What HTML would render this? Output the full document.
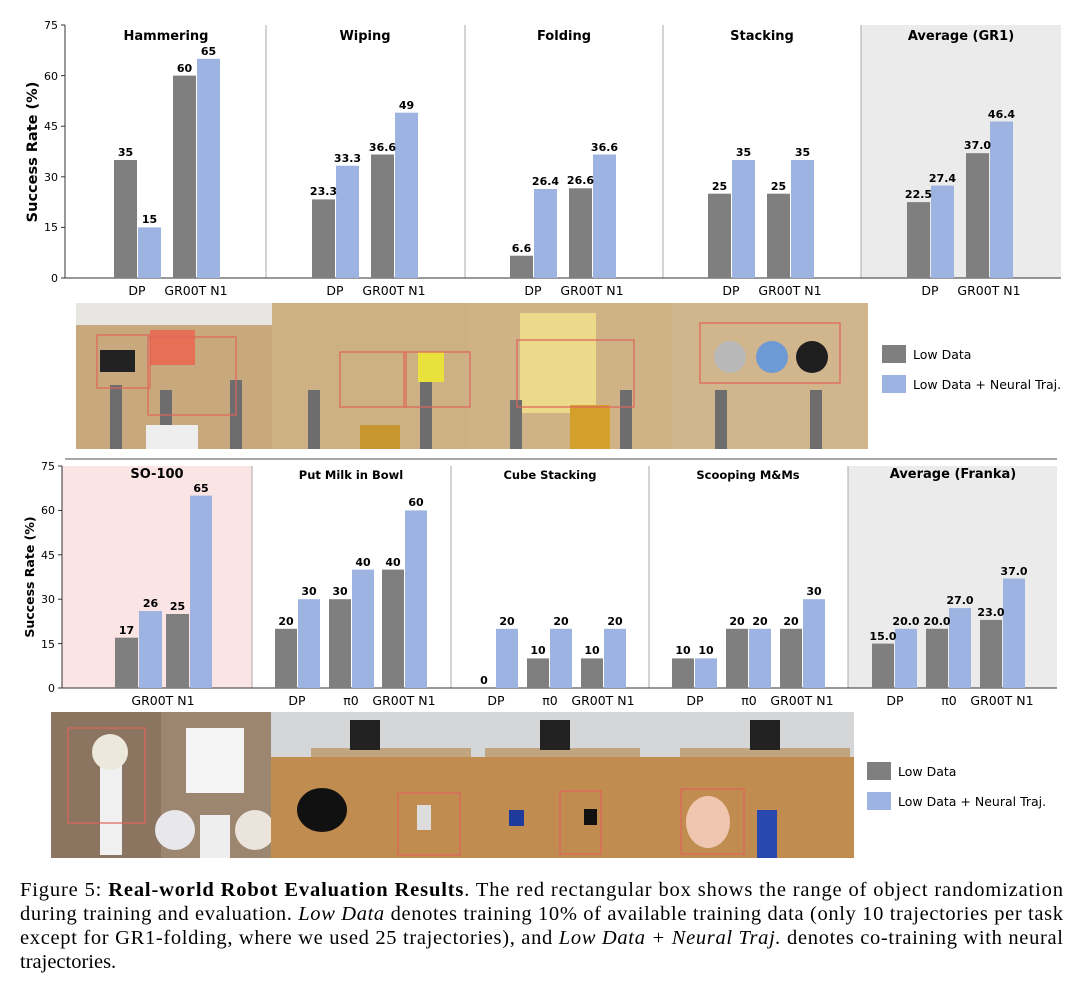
<!DOCTYPE html>
<html><head><meta charset="utf-8"><style>
html,body{margin:0;padding:0;background:#fff;width:1080px;height:991px;overflow:hidden}
svg text{font-family:"DejaVu Sans","Liberation Sans",sans-serif}
.v{font-size:11px;font-weight:bold;text-anchor:middle}
.t{font-size:13px;font-weight:bold;text-anchor:middle}
.x{font-size:12.5px;text-anchor:middle}
.y{font-size:11px;text-anchor:end}
.cap{font-family:"Liberation Serif",serif;font-size:20.5px}
</style></head><body>
<svg width="1080" height="991" viewBox="0 0 1080 991" xmlns="http://www.w3.org/2000/svg">
<rect x="861" y="25" width="200" height="253" fill="#ebebeb"/>
<g stroke="#aaa" stroke-width="1">
<line x1="266" y1="25" x2="266" y2="278"/><line x1="465" y1="25" x2="465" y2="278"/><line x1="663" y1="25" x2="663" y2="278"/><line x1="861" y1="25" x2="861" y2="278"/>
</g>
<line x1="65" y1="25" x2="65" y2="278" stroke="#333"/>
<line x1="65" y1="278" x2="1061" y2="278" stroke="#333"/>
<g stroke="#333"><line x1="61" y1="278" x2="65" y2="278"/><line x1="61" y1="227.4" x2="65" y2="227.4"/><line x1="61" y1="176.8" x2="65" y2="176.8"/><line x1="61" y1="126.2" x2="65" y2="126.2"/><line x1="61" y1="75.6" x2="65" y2="75.6"/><line x1="61" y1="25" x2="65" y2="25"/></g>
<text x="58" y="282" class="y">0</text><text x="58" y="231" class="y">15</text><text x="58" y="181" class="y">30</text><text x="58" y="130" class="y">45</text><text x="58" y="80" class="y">60</text><text x="58" y="29" class="y">75</text>
<text transform="translate(37,152) rotate(-90)" font-size="14.5" font-weight="bold" text-anchor="middle">Success Rate (%)</text>
<text x="166" y="40" class="t">Hammering</text><text x="365" y="40" class="t">Wiping</text><text x="564" y="40" class="t">Folding</text><text x="762" y="40" class="t">Stacking</text><text x="961" y="40" class="t">Average (GR1)</text>
<g fill="#7f7f7f">
<rect x="114" y="160" width="23" height="118"/><rect x="173" y="75.6" width="23" height="202.4"/>
<rect x="312" y="199.4" width="23" height="78.6"/><rect x="371" y="154.5" width="23" height="123.5"/>
<rect x="510" y="255.7" width="23" height="22.3"/><rect x="569" y="188.3" width="23" height="89.7"/>
<rect x="708" y="193.7" width="23" height="84.3"/><rect x="767" y="193.7" width="23" height="84.3"/>
<rect x="907" y="202.1" width="23" height="75.9"/><rect x="966" y="153.2" width="23" height="124.8"/>
</g>
<g fill="#9db3e2">
<rect x="138" y="227.4" width="23" height="50.6"/><rect x="197" y="58.8" width="23" height="219.2"/>
<rect x="336" y="165.7" width="23" height="112.3"/><rect x="395" y="112.7" width="23" height="165.3"/>
<rect x="534" y="189" width="23" height="89"/><rect x="593" y="154.5" width="23" height="123.5"/>
<rect x="732" y="160" width="23" height="118"/><rect x="791" y="160" width="23" height="118"/>
<rect x="931" y="185.6" width="23" height="92.4"/><rect x="990" y="121.5" width="23" height="156.5"/>
</g>
<g>
<text x="125.5" y="156" class="v">35</text><text x="149.5" y="223" class="v">15</text><text x="184.5" y="72" class="v">60</text><text x="208.5" y="55" class="v">65</text>
<text x="323.5" y="195" class="v">23.3</text><text x="347.5" y="162" class="v">33.3</text><text x="382.5" y="151" class="v">36.6</text><text x="406.5" y="109" class="v">49</text>
<text x="521.5" y="252" class="v">6.6</text><text x="545.5" y="185" class="v">26.4</text><text x="580.5" y="184" class="v">26.6</text><text x="604.5" y="151" class="v">36.6</text>
<text x="719.5" y="190" class="v">25</text><text x="743.5" y="156" class="v">35</text><text x="778.5" y="190" class="v">25</text><text x="802.5" y="156" class="v">35</text>
<text x="918.5" y="198" class="v">22.5</text><text x="942.5" y="182" class="v">27.4</text><text x="977.5" y="149" class="v">37.0</text><text x="1001.5" y="118" class="v">46.4</text>
</g>
<text x="137" y="295" class="x">DP</text><text x="196" y="295" class="x">GR00T N1</text>
<text x="335" y="295" class="x">DP</text><text x="394" y="295" class="x">GR00T N1</text>
<text x="533" y="295" class="x">DP</text><text x="592" y="295" class="x">GR00T N1</text>
<text x="731" y="295" class="x">DP</text><text x="790" y="295" class="x">GR00T N1</text>
<text x="930" y="295" class="x">DP</text><text x="989" y="295" class="x">GR00T N1</text>
<rect x="76" y="303" width="198" height="146" fill="#c8a97e"/><rect x="76" y="303" width="198" height="22" fill="#e8e6e2"/>
<rect x="272" y="303" width="198" height="146" fill="#cdb083"/>
<rect x="468" y="303" width="204" height="146" fill="#cfb286"/><rect x="520" y="313" width="76" height="100" fill="#ecd98a"/>
<rect x="672" y="303" width="196" height="146" fill="#d0b58d"/>
<g fill="#6d6d6d"><rect x="110" y="385" width="12" height="64"/><rect x="160" y="390" width="12" height="59"/><rect x="230" y="380" width="12" height="69"/><rect x="308" y="390" width="12" height="59"/><rect x="420" y="380" width="12" height="69"/><rect x="510" y="400" width="12" height="49"/><rect x="620" y="390" width="12" height="59"/><rect x="715" y="390" width="12" height="59"/><rect x="810" y="390" width="12" height="59"/></g>
<rect x="100" y="350" width="35" height="22" fill="#222"/><rect x="150" y="330" width="45" height="35" fill="#e57055"/><rect x="418" y="352" width="26" height="30" fill="#e9e13c"/>
<rect x="146" y="425" width="52" height="24" fill="#eee"/><rect x="360" y="425" width="40" height="24" fill="#c8962e"/><rect x="570" y="405" width="40" height="44" fill="#d4a02c"/>
<circle cx="730" cy="357" r="16" fill="#b8b8b8"/><circle cx="772" cy="357" r="16" fill="#6d9ad4"/><circle cx="812" cy="357" r="16" fill="#1e1e1e"/>
<g fill="none" stroke="#e0645a" stroke-width="1.2"><rect x="97" y="335" width="53" height="53"/><rect x="148" y="337" width="88" height="78"/><rect x="340" y="352" width="66" height="55"/><rect x="404" y="352" width="66" height="55"/><rect x="517" y="340" width="117" height="67"/><rect x="700" y="323" width="140" height="60"/></g>
<rect x="882" y="345" width="24" height="18" fill="#7f7f7f"/><text x="913" y="359" font-size="12.5">Low Data</text>
<rect x="882" y="375" width="24" height="18" fill="#9db3e2"/><text x="913" y="389" font-size="12.5">Low Data + Neural Traj.</text>
<line x1="65" y1="459" x2="1057" y2="459" stroke="#888" stroke-width="1.5"/>
<rect x="62" y="466" width="190" height="222" fill="#fbe4e4"/>
<rect x="848" y="466" width="209" height="222" fill="#ebebeb"/>
<g stroke="#aaa"><line x1="252" y1="466" x2="252" y2="688"/><line x1="451" y1="466" x2="451" y2="688"/><line x1="649" y1="466" x2="649" y2="688"/><line x1="848" y1="466" x2="848" y2="688"/></g>
<line x1="62" y1="466" x2="62" y2="688" stroke="#333"/><line x1="62" y1="688" x2="1057" y2="688" stroke="#333"/>
<g stroke="#333"><line x1="58" y1="688" x2="62" y2="688"/><line x1="58" y1="643.6" x2="62" y2="643.6"/><line x1="58" y1="599.2" x2="62" y2="599.2"/><line x1="58" y1="554.8" x2="62" y2="554.8"/><line x1="58" y1="510.4" x2="62" y2="510.4"/><line x1="58" y1="466" x2="62" y2="466"/></g>
<text x="55" y="692" class="y">0</text><text x="55" y="648" class="y">15</text><text x="55" y="603" class="y">30</text><text x="55" y="559" class="y">45</text><text x="55" y="514" class="y">60</text><text x="55" y="470" class="y">75</text>
<text transform="translate(34,577) rotate(-90)" font-size="12.5" font-weight="bold" text-anchor="middle">Success Rate (%)</text>
<text x="157" y="478" class="t">SO-100</text><text x="351" y="479" font-size="11.5" font-weight="bold" text-anchor="middle">Put Milk in Bowl</text><text x="550" y="479" font-size="11.5" font-weight="bold" text-anchor="middle">Cube Stacking</text><text x="748" y="479" font-size="11.5" font-weight="bold" text-anchor="middle">Scooping M&amp;Ms</text><text x="953" y="478" class="t">Average (Franka)</text>
<g fill="#7f7f7f">
<rect x="115" y="637.7" width="23" height="50.3"/><rect x="166" y="614" width="23" height="74"/>
<rect x="275" y="628.8" width="22" height="59.2"/><rect x="329" y="599.2" width="22" height="88.8"/><rect x="382" y="569.6" width="22" height="118.4"/>
<rect x="527" y="658.4" width="22" height="29.6"/><rect x="581" y="658.4" width="22" height="29.6"/>
<rect x="672" y="658.4" width="22" height="29.6"/><rect x="726" y="628.8" width="22" height="59.2"/><rect x="780" y="628.8" width="22" height="59.2"/>
<rect x="872" y="643.6" width="22" height="44.4"/><rect x="926" y="628.8" width="22" height="59.2"/><rect x="980" y="619.9" width="22" height="68.1"/>
</g>
<g fill="#9db3e2">
<rect x="139" y="611" width="23" height="77"/><rect x="190" y="495.6" width="22" height="192.4"/>
<rect x="298" y="599.2" width="22" height="88.8"/><rect x="352" y="569.6" width="22" height="118.4"/><rect x="405" y="510.4" width="22" height="177.6"/>
<rect x="496" y="628.8" width="22" height="59.2"/><rect x="550" y="628.8" width="22" height="59.2"/><rect x="604" y="628.8" width="22" height="59.2"/>
<rect x="695" y="658.4" width="22" height="29.6"/><rect x="749" y="628.8" width="22" height="59.2"/><rect x="803" y="599.2" width="22" height="88.8"/>
<rect x="895" y="628.8" width="22" height="59.2"/><rect x="949" y="608.1" width="22" height="79.9"/><rect x="1003" y="578.5" width="22" height="109.5"/>
</g>
<g>
<text x="126.5" y="634" class="v">17</text><text x="150.5" y="607" class="v">26</text><text x="177.5" y="610" class="v">25</text><text x="201" y="492" class="v">65</text>
<text x="286" y="625" class="v">20</text><text x="309" y="595" class="v">30</text><text x="340" y="595" class="v">30</text><text x="363" y="566" class="v">40</text><text x="393" y="566" class="v">40</text><text x="416" y="506" class="v">60</text>
<text x="484" y="684" class="v">0</text><text x="507" y="625" class="v">20</text><text x="538" y="654" class="v">10</text><text x="561" y="625" class="v">20</text><text x="592" y="654" class="v">10</text><text x="615" y="625" class="v">20</text>
<text x="683" y="654" class="v">10</text><text x="706" y="654" class="v">10</text><text x="737" y="625" class="v">20</text><text x="760" y="625" class="v">20</text><text x="791" y="625" class="v">20</text><text x="814" y="595" class="v">30</text>
<text x="883" y="640" class="v">15.0</text><text x="906" y="625" class="v">20.0</text><text x="937" y="625" class="v">20.0</text><text x="960" y="604" class="v">27.0</text><text x="991" y="616" class="v">23.0</text><text x="1014" y="575" class="v">37.0</text>
</g>
<text x="163" y="705" class="x">GR00T N1</text>
<text x="297" y="705" class="x">DP</text><text x="351" y="705" class="x">π0</text><text x="404" y="705" class="x">GR00T N1</text>
<text x="496" y="705" class="x">DP</text><text x="550" y="705" class="x">π0</text><text x="603" y="705" class="x">GR00T N1</text>
<text x="695" y="705" class="x">DP</text><text x="749" y="705" class="x">π0</text><text x="802" y="705" class="x">GR00T N1</text>
<text x="895" y="705" class="x">DP</text><text x="949" y="705" class="x">π0</text><text x="1002" y="705" class="x">GR00T N1</text>
<rect x="51" y="712" width="110" height="146" fill="#8c7560"/><rect x="161" y="712" width="110" height="146" fill="#9c8670"/>
<rect x="186" y="728" width="58" height="65" fill="#f5f5f5"/>
<rect x="100" y="755" width="22" height="100" fill="#f0f0f0"/><circle cx="110" cy="752" r="18" fill="#ece8dc"/>
<circle cx="175" cy="830" r="20" fill="#e8e8ea"/><circle cx="255" cy="830" r="20" fill="#eae4dc"/><rect x="200" y="815" width="30" height="43" fill="#eee"/>
<rect x="271" y="712" width="583" height="146" fill="#c08c50"/>
<rect x="271" y="712" width="583" height="45" fill="#d4d6d8"/>
<rect x="311" y="748" width="160" height="9" fill="#c0a580"/><rect x="485" y="748" width="155" height="9" fill="#c0a580"/><rect x="680" y="748" width="170" height="9" fill="#c0a580"/>
<rect x="350" y="720" width="30" height="30" fill="#222"/><rect x="540" y="720" width="30" height="30" fill="#222"/><rect x="750" y="720" width="30" height="30" fill="#222"/>
<ellipse cx="322" cy="810" rx="25" ry="22" fill="#111"/><rect x="417" y="805" width="14" height="25" fill="#ddd"/>
<rect x="509" y="810" width="15" height="16" fill="#1e3a9a"/><rect x="584" y="809" width="13" height="16" fill="#111"/>
<ellipse cx="708" cy="822" rx="22" ry="26" fill="#f1c6b0"/><rect x="757" y="810" width="20" height="48" fill="#2848b0"/>
<g fill="none" stroke="#e0645a" stroke-width="1.2"><rect x="68" y="728" width="77" height="95"/><rect x="398" y="793" width="62" height="62"/><rect x="560" y="791" width="41" height="63"/><rect x="681" y="789" width="63" height="65"/></g>
<rect x="867" y="762" width="24" height="18" fill="#7f7f7f"/><text x="898" y="776" font-size="12.5">Low Data</text>
<rect x="867" y="792" width="24" height="18" fill="#9db3e2"/><text x="898" y="806" font-size="12.5">Low Data + Neural Traj.</text>
<text x="20" y="896" class="cap" textLength="1043" lengthAdjust="spacing">Figure 5: <tspan font-weight="bold">Real-world Robot Evaluation Results</tspan>. The red rectangular box shows the range of object randomization</text>
<text x="20" y="920" class="cap" textLength="1043" lengthAdjust="spacing">during training and evaluation. <tspan font-style="italic">Low Data</tspan> denotes training 10% of available training data (only 10 trajectories per task</text>
<text x="20" y="944" class="cap" textLength="1043" lengthAdjust="spacing">except for GR1-folding, where we used 25 trajectories), and <tspan font-style="italic">Low Data + Neural Traj.</tspan> denotes co-training with neural</text>
<text x="20" y="968" class="cap">trajectories.</text>
</svg>
</body></html>
